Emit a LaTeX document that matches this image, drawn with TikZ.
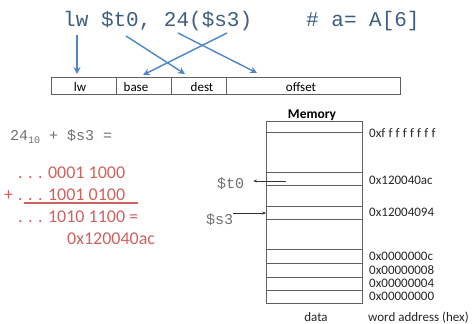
\documentclass[tikz,border=0pt]{standalone}
\usepackage{fontspec}
\setmainfont{Carlito}
\newfontfamily\monofont{Liberation Mono}
\usetikzlibrary{arrows.meta}
\definecolor{instr}{HTML}{3E5E80}
\definecolor{arrowblue}{HTML}{4F86C6}
\definecolor{sumred}{HTML}{D0625E}
\definecolor{reggray}{HTML}{707070}
\definecolor{cellline}{HTML}{606060}
\tikzset{
  instrtext/.style={inner sep=0pt, anchor=base west, text=instr,
    font=\monofont\fontsize{21}{21}\selectfont},
  fieldbox/.style={draw=cellline, line width=0.6pt, inner sep=0pt, minimum height=17pt, anchor=north west},
  fieldlabel/.style={inner sep=0pt, anchor=base, font=\fontsize{13}{13}\selectfont},
  maparrow/.style={draw=arrowblue, line width=1.4pt, -{Stealth[length=7pt,width=7pt]}},
  regtext/.style={inner sep=0pt, anchor=base west, text=reggray,
    font=\monofont\fontsize{15}{15}\selectfont},
  sumtext/.style={inner sep=0pt, anchor=base west, text=sumred,
    font=\fontsize{18}{18}\selectfont},
  addrtext/.style={inner sep=0pt, anchor=base west, text=black!85,
    font=\fontsize{13}{13}\selectfont},
  cellrule/.style={draw=cellline, line width=0.6pt},
  regarrow/.style={draw=black!80, line width=0.5pt, -{Stealth[length=3.5pt,width=3pt]}},
}
\begin{document}
\begin{tikzpicture}[x=1pt, y=-1pt]
\useasboundingbox (0,0) rectangle (475,324);

% instruction
\node[instrtext] (instr) at (63,27) {lw \$t0, 24(\$s3)};
\node[instrtext] (comment) at (306,27) {\# a= A[6]};

% instruction fields
\node[fieldbox, minimum width=65pt] (flw) at (51,77) {};
\node[fieldbox, minimum width=55pt] (fbase) at (116,77) {};
\node[fieldbox, minimum width=55pt] (fdest) at (171,77) {};
\node[fieldbox, minimum width=174pt] (foff) at (226,77) {};
\node[fieldlabel] (llw) at (80,91) {lw};
\node[fieldlabel] (lbase) at (136,91) {base};
\node[fieldlabel] (ldest) at (202,91) {dest};
\node[fieldlabel] (loff) at (301,91) {offset};

% mapping of operands to fields
\coordinate (s1) at (77,35);   \coordinate (e1) at (77,74);
\coordinate (s2) at (126,36);  \coordinate (e2) at (185,74);
\coordinate (s3) at (227,33);  \coordinate (e3) at (143,75);
\coordinate (s4) at (178,33);  \coordinate (e4) at (257,73);
\draw[maparrow] (s1) -- (e1);
\draw[maparrow] (s2) -- (e2);
\draw[maparrow] (s3) -- (e3);
\draw[maparrow] (s4) -- (e4);

% address calculation
\node[regtext] (calc) at (10,140) {24\raisebox{-3.5pt}{\fontsize{10}{10}\selectfont 10} + \$s3 =};
\node[sumtext] (sa) at (18,178) {. . . 0001 1000};
\node[sumtext] (plus) at (4,200) {+};
\node[sumtext] (sb) at (18,200) {. . . 1001 0100};
\node[sumtext] (sc) at (18,222) {. . . 1010 1100 =};
\node[sumtext] (sd) at (67,244) {0x120040ac};
\coordinate (ul) at (24,203); \coordinate (ur) at (138,203);
\draw[sumred, line width=1.6pt] (ul) -- (ur);

% memory
\node[inner sep=0pt, anchor=base, font=\bfseries\fontsize{13.5}{13.5}\selectfont] (memtitle) at (312,118.5) {Memory};
\node[draw=cellline, line width=0.6pt, inner sep=0pt, anchor=north west,
  minimum width=96pt, minimum height=182pt] (mem) at (266,121) {};
\foreach \yy in {132,172,185,206,219,249,263,277,290}
  \draw[cellrule] (266,\yy) -- (362,\yy);

\node[addrtext] (aff) at (369,137) {0xf\hspace{3.2pt}f\hspace{3.2pt}f\hspace{3.2pt}f\hspace{3.2pt}f\hspace{3.2pt}f\hspace{3.2pt}f\hspace{3.2pt}f};
\node[addrtext] (aac) at (369,184) {0x120040ac};
\node[addrtext] (a94) at (369,216.5) {0x12004094};
\node[addrtext] (a0c) at (369,260) {0x0000000c};
\node[addrtext] (a08) at (369,274) {0x00000008};
\node[addrtext] (a04) at (369,287.5) {0x00000004};
\node[addrtext] (a00) at (369,300.5) {0x00000000};
\node[addrtext, anchor=base] (data) at (316,321) {data};
\node[addrtext] (wa) at (368,321) {word address (hex)};

% registers
\node[regtext] (t0) at (217,188.5) {\$t0};
\node[regtext] (s3reg) at (206,224) {\$s3};
\coordinate (t0src) at (286,181);
\coordinate (t0dst) at ([xshift=9pt]t0.east |- t0src);
\draw[regarrow] (t0src) -- (t0dst);
\coordinate (s3src) at (233,213);
\draw[regarrow] (s3src) -- (mem.west |- s3src);
\end{tikzpicture}
\end{document}
